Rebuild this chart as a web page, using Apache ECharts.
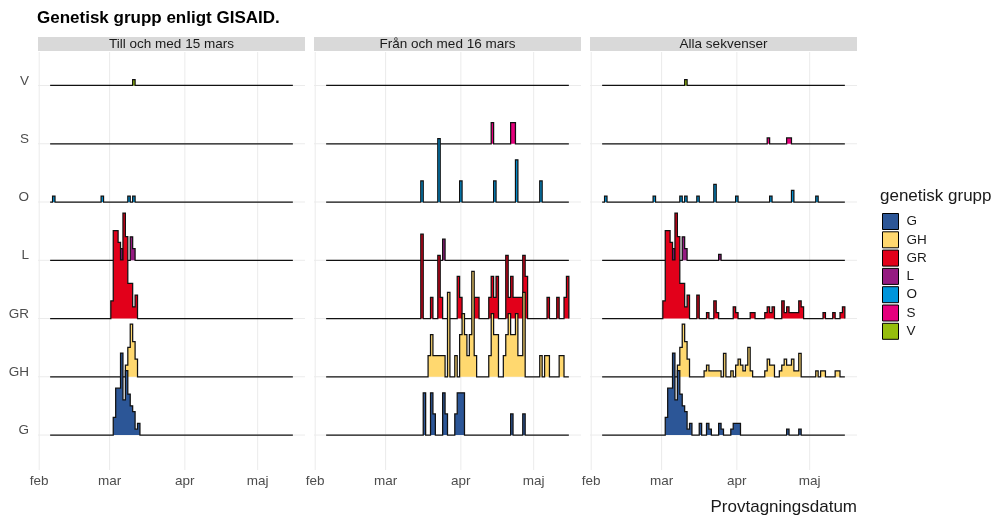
<!DOCTYPE html>
<html><head><meta charset="utf-8">
<script src="https://cdn.jsdelivr.net/npm/echarts@6/dist/echarts.min.js"></script>
<style>html,body{margin:0;padding:0;background:#fff}#c{width:993px;height:516px}</style>
</head><body><div id="c"></div>
<script>
// ---------- data ----------
const groups = ['G','GH','GR','L','O','S','V'];
const groupColors = ['#2c5697','#ffd86f','#e2001a','#951b81','#0095db','#e5007d','#96be0d'];
const panelTitles = ['Till och med 15 mars','Från och med 16 mars','Alla sekvenser'];
const monthStarts = ['2020-02-01','2020-03-01','2020-04-01','2020-05-01'];
const monthLabels = ['feb','mar','apr','maj'];
const firstBinDay = '2020-02-06';   // centre of daily bin 0
const numBins = 100;                // daily bins, 6 feb .. 15 maj

// counts per daily bin, [bin index, number of sequences]
// "Till och med 15 mars"
const before_G  = [[26,3],[27,8],[28,8],[29,14],[30,6],[31,11],[32,7],[33,5],[34,4],[35,1],[36,2]];
const before_GH = [[31,2],[32,5],[33,9],[34,6],[35,3]];
const before_GR = [[25,3],[26,15],[27,15],[28,13],[29,10],[30,18],[31,14],[32,6],[33,6],[34,2],[35,4]];
const before_L  = [[29,2],[33,4],[34,2]];
const before_O  = [[1,1],[21,1],[32,1],[34,1]];
const before_S  = [];
const before_V  = [[34,1]];
// "Från och med 16 mars"
const after_G  = [[40,2],[43,2],[44,1],[48,2],[49,1],[53,1],[54,2],[55,2],[56,2],[76,1],[81,1]];
const after_GH = [[42,1],[43,2],[44,1],[45,1],[46,1],[47,1],[48,1],[50,4],[53,1],[55,2],[56,3],[57,2],[58,1],[59,2],[60,5],[61,1],
                  [67,1],[68,3],[69,2],[70,2],[73,1],[74,2],[75,3],[76,2],[77,2],[78,3],[79,1],[80,1],[81,4],[88,1],[90,1],[91,1],[96,1],[97,1]];
const after_GR = [[39,4],[43,1],[46,3],[47,1],[54,2],[55,1],[61,1],[62,1],[67,1],[68,2],[69,1],[70,2],[74,3],[75,1],[76,2],[77,1],
                  [78,1],[79,1],[80,1],[81,3],[82,2],[91,1],[95,1],[98,1],[99,2]];
const after_L  = [[48,1]];
const after_O  = [[39,1],[46,3],[55,1],[69,1],[78,2],[88,1]];
const after_S  = [[68,1],[76,1],[77,1]];
const after_V  = [];

// ---------- build ----------
const DAY = 86400000;
const RIDGE_SCALE = 1.81;        // tallest bin in a panel, in row units
const Y_MIN = 0.4, Y_MAX = 7.575;
const FONT = "'Liberation Sans', Arial, Helvetica, sans-serif";
const t0 = Date.parse(firstBinDay + 'T00:00:00Z');
const edge = i => t0 + (i - 0.5) * DAY;
const dataSpan = edge(numBins) - edge(0);
const xMin = edge(0) - 0.05 * dataSpan, xMax = edge(numBins) + 0.05 * dataSpan;
const monthMs = monthStarts.map(d => Date.parse(d + 'T00:00:00Z'));

function dense(sparse){ const a = new Array(numBins).fill(0); sparse.forEach(([i,c]) => a[i] += c); return a; }
const beforeSets = [before_G,before_GH,before_GR,before_L,before_O,before_S,before_V].map(dense);
const afterSets  = [after_G,after_GH,after_GR,after_L,after_O,after_S,after_V].map(dense);
const allSets = beforeSets.map((a,gi) => a.map((v,i) => v + afterSets[gi][i]));
const panels = [beforeSets, afterSets, allSets];

const gridLefts = [38, 314, 590];
const GRID_TOP = 52, GRID_H = 418, GRID_W = 267;

const series = [];
panels.forEach((pd, p) => {
  const maxC = Math.max(...pd.map(a => Math.max(...a)));
  const unit = RIDGE_SCALE / maxC;
  groups.forEach((g, gi) => series.push({
    type:'line', xAxisIndex:p, yAxisIndex:p, silent:true, symbol:'none', z:1,
    data:[[xMin, gi+1],[xMax, gi+1]], lineStyle:{color:'#ebebeb', width:1}
  }));
  monthMs.forEach(m => series.push({
    type:'line', xAxisIndex:p, yAxisIndex:p, silent:true, symbol:'none', z:1,
    data:[[m, Y_MIN],[m, Y_MAX]], lineStyle:{color:'#ebebeb', width:1}
  }));
  for (let gi = groups.length - 1; gi >= 0; gi--) {
    const base = gi + 1;
    const counts = pd[gi];
    const data = [[edge(0), base]];
    for (let i = 0; i < numBins; i++) data.push([edge(i), base + counts[i] * unit]);
    data.push([edge(numBins), base]);
    series.push({
      type:'line', name:groups[gi], xAxisIndex:p, yAxisIndex:p, step:'end',
      symbol:'none', showSymbol:false, data, color:groupColors[gi],
      itemStyle:{color:groupColors[gi]},
      lineStyle:{color:'#111', width:1.25, join:'miter'},
      areaStyle:{color:groupColors[gi], opacity:1, origin:base},
      z: 10 + (groups.length - 1 - gi), silent:true
    });
  }
});

const fmtX = v => { for (let k = 0; k < monthMs.length; k++) if (Math.abs(v - monthMs[k]) < DAY/2) return monthLabels[k]; return ''; };
const fmtY = v => { const k = Math.round(v); return (Math.abs(v - k) < 1e-6 && k >= 1 && k <= groups.length) ? groups[k-1] : ''; };

const grid = [], xAxis = [], yAxis = [], graphic = [];
gridLefts.forEach((left, p) => {
  grid.push({left, top:GRID_TOP, width:GRID_W, height:GRID_H, containLabel:false});
  xAxis.push({type:'time', gridIndex:p, min:xMin, max:xMax, splitNumber:3, minInterval:28*DAY, maxInterval:31*DAY,
    axisLine:{show:false}, axisTick:{show:false}, splitLine:{show:false},
    axisLabel:{formatter:fmtX, color:'#4d4d4d', fontSize:13.5, fontFamily:FONT, margin:4, showMinLabel:true, showMaxLabel:true}});
  yAxis.push({type:'value', gridIndex:p, min:Y_MIN, max:Y_MAX, splitNumber:7,
    axisLine:{show:false}, axisTick:{show:false}, splitLine:{show:false},
    axisLabel: p === 0 ? {formatter:fmtY, color:'#4d4d4d', fontSize:13.5, fontFamily:FONT, margin:9, verticalAlign:'bottom', lineHeight:9, showMinLabel:true, showMaxLabel:true} : {show:false}});
  graphic.push({type:'rect', left:left, top:37, shape:{width:GRID_W, height:14}, style:{fill:'#d9d9d9'}, silent:true});
  graphic.push({type:'text', x:left + GRID_W/2, y:44, style:{text:panelTitles[p], fill:'#1a1a1a', font:'13.5px ' + FONT, textAlign:'center', textVerticalAlign:'middle'}, silent:true});
});
graphic.push({type:'text', x:880, y:196, style:{text:'genetisk grupp', fill:'#1a1a1a', font:'17px ' + FONT, textAlign:'left', textVerticalAlign:'middle'}});
graphic.push({type:'text', x:857, y:507, style:{text:'Provtagningsdatum', fill:'#1a1a1a', font:'17px ' + FONT, textAlign:'right', textVerticalAlign:'middle'}});

const chart = echarts.init(document.getElementById('c'), null, {renderer:'canvas'});
chart.setOption({
  animation:false, useUTC:true, backgroundColor:'#fff',
  title:{text:'Genetisk grupp enligt GISAID.', left:37, top:10, padding:0,
    textStyle:{fontSize:17, fontWeight:'bold', color:'#000', fontFamily:FONT}},
  legend:{data:groups.slice(), orient:'vertical', left:882, top:213, itemWidth:16, itemHeight:16, itemGap:1.3,
    icon:'rect', itemStyle:{borderColor:'#000', borderWidth:1}, selectedMode:false, padding:0,
    textStyle:{fontSize:13.5, color:'#1a1a1a', fontFamily:FONT, padding:[0,0,0,3]}},
  grid, xAxis, yAxis, series, graphic
});
</script></body></html>
